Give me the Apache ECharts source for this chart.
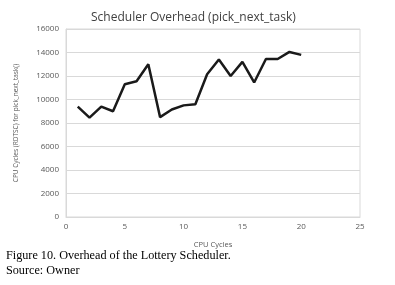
<!DOCTYPE html>
<html>
<head>
<meta charset="utf-8">
<script src="https://cdn.jsdelivr.net/npm/echarts@6/dist/echarts.min.js"></script>
<style>
  html, body { margin: 0; padding: 0; background: #fff; }
  #chart { width: 395px; height: 285px; }
</style>
</head>
<body>
<div id="chart"></div>
<script>
// values
const cycles = [1, 2, 3, 4, 5, 6, 7, 8, 9, 10, 11, 12, 13, 14, 15, 16, 17, 18, 19, 20];
const overhead = [9400, 8450, 9400, 9000, 11300, 11550, 13000, 8500, 9150, 9500,
                  9600, 12150, 13400, 12000, 13200, 11450, 13450, 13450, 14050, 13800];
const captionLines = ['Figure 10. Overhead of the Lottery Scheduler.', 'Source: Owner'];

const chart = echarts.init(document.getElementById('chart'));

const points = cycles.map((c, i) => [c, overhead[i]]);

const option = {
  animation: false,
  title: {
    text: 'Scheduler Overhead (pick_next_task)',
    left: 86,
    top: 7,
    textStyle: { fontFamily: 'Open Sans', fontSize: 12, fontWeight: 'normal', color: '#404040' }
  },
  grid: {
    left: 66, right: 35, top: 29, bottom: 68,
    show: true, borderColor: '#d9d9d9', borderWidth: 1
  },
  xAxis: {
    type: 'value',
    min: 0, max: 25, interval: 5,
    name: 'CPU Cycles',
    nameLocation: 'middle',
    nameGap: 24,
    nameTextStyle: { fontFamily: 'Open Sans', fontSize: 7.5, color: '#595959' },
    axisLine: { lineStyle: { color: '#d9d9d9' } },
    axisTick: { show: false },
    splitLine: { show: false },
    axisLabel: { fontFamily: 'Open Sans', fontSize: 8, color: '#595959', margin: 6 }
  },
  yAxis: {
    type: 'value',
    min: 0, max: 16000, interval: 2000,
    name: 'CPU Cycles (RDTSC) for pick_next_task()',
    nameLocation: 'middle',
    nameGap: 46,
    nameTextStyle: { fontFamily: 'Open Sans', fontSize: 6.5, color: '#595959' },
    axisLine: { show: true, lineStyle: { color: '#d9d9d9' } },
    axisTick: { show: false },
    splitLine: { lineStyle: { color: '#d9d9d9' } },
    axisLabel: {
      fontFamily: 'Open Sans', fontSize: 8, color: '#595959', margin: 7,
      formatter: (v) => String(v)
    }
  },
  series: [{
    type: 'line',
    data: points,
    showSymbol: false,
    lineStyle: { color: '#1a1a1a', width: 2.5 }
  }],
  graphic: captionLines.map((t, i) => ({
    type: 'text',
    left: 6,
    top: 250 + i * 15,
    style: { text: t, font: '12.2px "Liberation Serif"', fill: '#000' }
  }))
};

chart.setOption(option);
</script>
</body>
</html>
